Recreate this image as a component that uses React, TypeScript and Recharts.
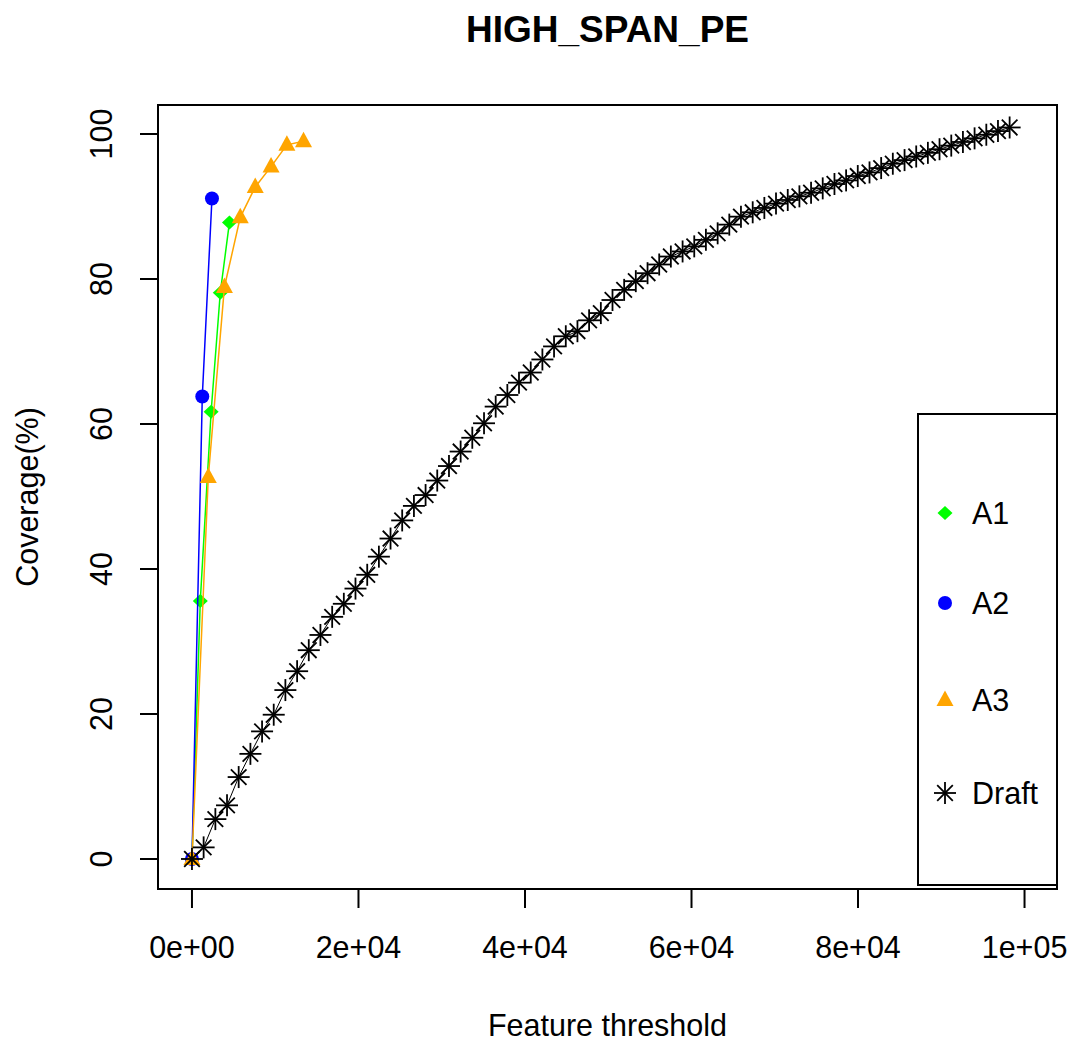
import {
  Label,
  Legend,
  ReferenceArea,
  Scatter,
  ScatterChart,
  XAxis,
  YAxis,
} from "recharts";

const xDomain = [-4080, 103900];
const yDomain = [-4.14, 104];
const xTicks = [0, 20000, 40000, 60000, 80000, 100000];
const xTickLabels = ["0e+00", "2e+04", "4e+04", "6e+04", "8e+04", "1e+05"];
const yTicks = [0, 20, 40, 60, 80, 100];

const a1Threshold = [0, 1000, 2300, 3400, 4500];
const a1Coverage = [0, 35.6, 61.7, 78.1, 87.8];

const a2Threshold = [0, 1240, 2400];
const a2Coverage = [0, 63.8, 91.1];

const a3Threshold = [0, 1960, 3900, 5800, 7600, 9500, 11400, 13400];
const a3Coverage = [0, 52.7, 78.9, 88.5, 92.7, 95.5, 98.5, 99.0];

const draftThreshold = [
  0, 1400, 2810, 4210, 5610, 7020, 8420, 9820, 11220, 12630, 14030, 15430,
  16840, 18240, 19640, 21050, 22450, 23850, 25250, 26660, 28060, 29460, 30870,
  32270, 33670, 35080, 36480, 37880, 39280, 40690, 42090, 43490, 44900, 46300,
  47700, 49110, 50510, 51910, 53310, 54720, 56120, 57520, 58930, 60330, 61730,
  63140, 64540, 65940, 67350, 68750, 70150, 71560, 72960, 74360, 75760, 77170,
  78570, 79970, 81380, 82780, 84180, 85590, 86990, 88390, 89790, 91200, 92600,
  94000, 95410, 96810, 98210,
];
const draftCoverage = [
  0, 1.6, 5.5, 7.4, 11.3, 14.5, 17.6, 19.9, 23.3, 25.9, 28.8, 30.9, 33.4, 35.2,
  37.3, 39.2, 41.7, 44.2, 46.7, 48.7, 50.2, 52.2, 54.2, 56.2, 58.1, 60.1, 62.4,
  64.0, 65.7, 67.1, 68.9, 70.7, 72.1, 72.8, 74.3, 75.3, 77.1, 78.5, 79.7, 80.8,
  82.0, 83.1, 83.8, 84.5, 85.4, 86.3, 87.5, 88.6, 89.2, 89.8, 90.4, 90.9, 91.4,
  91.9, 92.5, 93.1, 93.6, 94.2, 94.7, 95.3, 95.9, 96.4, 96.9, 97.4, 97.9, 98.4,
  98.9, 99.4, 99.9, 100.4, 100.9,
];

const GREEN = "#00FF00";
const BLUE = "#0000FF";
const ORANGE = "#FFA500";
const FONT = '"Liberation Sans", Arial, sans-serif';

const points = (xs: number[], ys: number[]) =>
  xs.map((x, i) => ({ x, y: ys[i] }));

const a1 = points(a1Threshold, a1Coverage);
const a2 = points(a2Threshold, a2Coverage);
const a3 = points(a3Threshold, a3Coverage);
const draft = points(draftThreshold, draftCoverage);

function Diamond({ cx, cy }: { cx: number; cy: number }) {
  return (
    <polygon
      points={`${cx},${cy - 7} ${cx + 7.5},${cy} ${cx},${cy + 7} ${cx - 7.5},${cy}`}
      fill={GREEN}
    />
  );
}

function Dot({ cx, cy }: { cx: number; cy: number }) {
  return <circle cx={cx} cy={cy} r={7} fill={BLUE} />;
}

function Triangle({ cx, cy }: { cx: number; cy: number }) {
  return (
    <polygon
      points={`${cx},${cy - 9.5} ${cx + 8.5},${cy + 6} ${cx - 8.5},${cy + 6}`}
      fill={ORANGE}
    />
  );
}

function Asterisk({ cx, cy }: { cx: number; cy: number }) {
  const r = 11;
  const d = 7.8;
  return (
    <g stroke="#000" strokeWidth={1.8}>
      <line x1={cx - r} y1={cy} x2={cx + r} y2={cy} />
      <line x1={cx} y1={cy - r} x2={cx} y2={cy + r} />
      <line x1={cx - d} y1={cy - d} x2={cx + d} y2={cy + d} />
      <line x1={cx - d} y1={cy + d} x2={cx + d} y2={cy - d} />
    </g>
  );
}

const legendItems = [
  { name: "A1", Mark: Diamond, y: 100 },
  { name: "A2", Mark: Dot, y: 190 },
  { name: "A3", Mark: Triangle, y: 287 },
  { name: "Draft", Mark: Asterisk, y: 380 },
];

function LegendBox() {
  return (
    <svg width={141} height={473} style={{ display: "block" }}>
      <rect x={1} y={1} width={139} height={471} fill="#fff" stroke="#000" strokeWidth={2} />
      {legendItems.map(({ name, Mark, y }) => (
        <g key={name}>
          <Mark cx={28} cy={y} />
          <text x={55} y={y + 11} fontSize={30.5} fontFamily={FONT} fill="#000">
            {name}
          </text>
        </g>
      ))}
    </svg>
  );
}

function YTick(props: any) {
  const { x, y, payload } = props;
  return (
    <text
      x={x}
      y={y}
      transform={`rotate(-90, ${x}, ${y})`}
      textAnchor="middle"
      fontSize={30.5}
      fontFamily={FONT}
      fill="#000"
    >
      {payload.value}
    </text>
  );
}

export default function App() {
  return (
    <div
      style={{
        position: "absolute",
        left: 0,
        top: 0,
        width: 1073,
        height: 1043,
        background: "#fff",
        fontFamily: FONT,
      }}
    >
      <ScatterChart
        width={1073}
        height={1043}
        margin={{ top: 105, right: 16, bottom: 0, left: 0 }}
      >
        <text
          x={607.5}
          y={42}
          textAnchor="middle"
          fontSize={37}
          fontWeight="bold"
          fontFamily={FONT}
          fill="#000"
        >
          HIGH_SPAN_PE
        </text>
        <XAxis
          type="number"
          dataKey="x"
          domain={xDomain}
          allowDataOverflow
          ticks={xTicks}
          tickFormatter={(v: number) => xTickLabels[xTicks.indexOf(v)]}
          height={154}
          axisLine={false}
          tickSize={19}
          tickMargin={28}
          tickLine={{ stroke: "#000", strokeWidth: 2 }}
          tick={{ fontSize: 30.5, fill: "#000", fontFamily: FONT }}
        >
          <Label
            value="Feature threshold"
            position="insideBottom"
            offset={7}
            fontSize={30.5}
            fill="#000"
            fontFamily={FONT}
          />
        </XAxis>
        <YAxis
          type="number"
          dataKey="y"
          domain={yDomain}
          allowDataOverflow
          ticks={yTicks}
          width={158}
          axisLine={false}
          tickSize={18}
          tickMargin={28}
          tickLine={{ stroke: "#000", strokeWidth: 2 }}
          tick={<YTick />}
        >
          <Label
            content={(p: any) => {
              const vb = p.viewBox;
              const cy = vb.y + vb.height / 2;
              return (
                <text
                  x={38}
                  y={cy}
                  transform={`rotate(-90, 38, ${cy})`}
                  textAnchor="middle"
                  fontSize={30.5}
                  fontFamily={FONT}
                  fill="#000"
                >
                  Coverage(%)
                </text>
              );
            }}
          />
        </YAxis>
        <ReferenceArea
          x1={xDomain[0]}
          x2={xDomain[1]}
          y1={yDomain[0]}
          y2={yDomain[1]}
          fill="none"
          fillOpacity={0}
          stroke="#000"
          strokeWidth={2}
          ifOverflow="visible"
        />
        <Scatter
          name="A1"
          data={a1}
          isAnimationActive={false}
          line={{ stroke: GREEN, strokeWidth: 1.5 }}
          shape={(p: any) => <Diamond cx={p.cx} cy={p.cy} />}
        />
        <Scatter
          name="A2"
          data={a2}
          isAnimationActive={false}
          line={{ stroke: BLUE, strokeWidth: 1.5 }}
          shape={(p: any) => <Dot cx={p.cx} cy={p.cy} />}
        />
        <Scatter
          name="A3"
          data={a3}
          isAnimationActive={false}
          line={{ stroke: ORANGE, strokeWidth: 1.5 }}
          shape={(p: any) => <Triangle cx={p.cx} cy={p.cy} />}
        />
        <Scatter
          name="Draft"
          data={draft}
          isAnimationActive={false}
          line={{ stroke: "#000", strokeWidth: 1 }}
          shape={(p: any) => <Asterisk cx={p.cx} cy={p.cy} />}
        />
        <Legend
          layout="vertical"
          align="center"
          verticalAlign="middle"
          wrapperStyle={{ left: 917, top: 413, width: 141, height: 473 }}
          content={() => <LegendBox />}
        />
      </ScatterChart>
    </div>
  );
}
